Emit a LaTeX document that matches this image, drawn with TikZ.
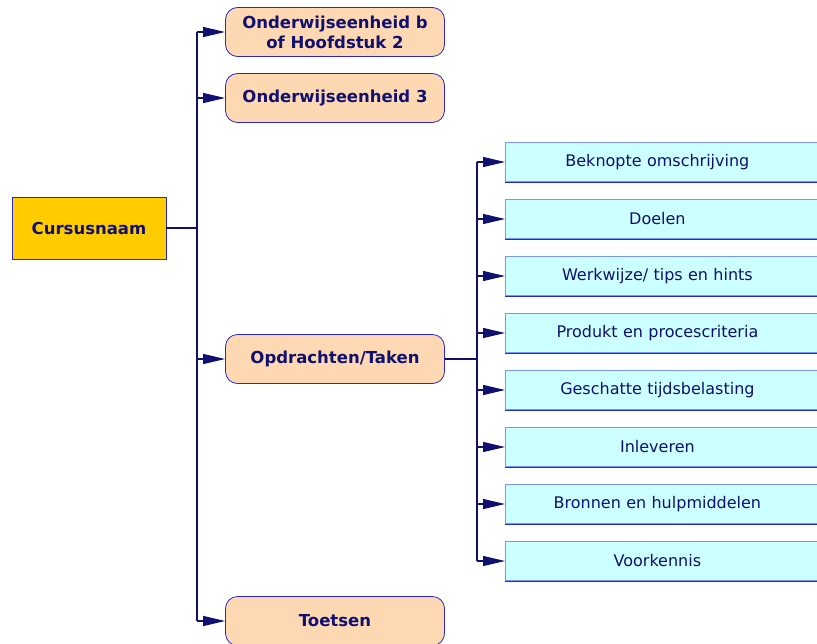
\documentclass[tikz,border=0pt]{standalone}
\usepackage{fontspec}
\setmainfont{DejaVu Sans}
\usepackage{tikz}
\usetikzlibrary{arrows.meta,
                positioning,
                calc}
\definecolor{navy}{RGB}{16,16,112}
\definecolor{rand}{RGB}{40,40,210}
\definecolor{lichtrand}{RGB}{120,150,250}
\definecolor{goud}{RGB}{255,204,0}
\definecolor{perzik}{RGB}{253,216,178}
\definecolor{lichtcyaan}{RGB}{204,255,255}
\tikzset{
	%Define standard arrow tip
	>={Triangle[length=22pt,width=10pt]},
	%Define style for boxes
	hoofd/.style={
	       rectangle,
	       draw=rand, thick,
	       fill=goud,
	       text=navy,
	       font=\fontsize{16.5}{20}\selectfont\bfseries,
	       minimum width=154pt,
	       minimum height=62pt},
	eenheid/.style={
	       rectangle,
	       rounded corners=12pt,
	       draw=rand, thick,
	       fill=perzik,
	       text=navy,
	       font=\fontsize{16.5}{20}\selectfont\bfseries,
	       align=center,
	       minimum width=219pt,
	       minimum height=49pt},
	stap/.style={
	       rectangle,
	       draw=lichtrand, thick,
	       fill=lichtcyaan,
	       text=navy,
	       font=\fontsize{16}{19}\selectfont,
	       anchor=west,
	       inner xsep=0pt,
	       text width=340pt,
	       minimum height=39pt},
	% Define line styles
	lijn/.style={
	       draw=navy,
	       line width=1.2pt},
	pil/.style={
	       lijn,
	       ->}
}

\begin{document}
\begin{tikzpicture}[x=1pt, y=-1pt]
	\useasboundingbox (0,0) rectangle (817,643);
	\clip (0,0) rectangle (817,643);
	\node[hoofd] (cursus) at (89,228) {Cursusnaam};
	\node[eenheid] (eenheid_b) at (335,32) {Onderwijseenheid b\\of Hoofdstuk 2};
	\node[eenheid] (eenheid_3) at (335,98) {Onderwijseenheid 3};
	\node[eenheid] (opdrachten) at (335,359) {Opdrachten/Taken};
	\node[eenheid] (toetsen) at (335,621) {Toetsen};
	% main branch
	\coordinate (stam) at (197,228);
	\draw[lijn] (cursus.east) -- (stam);
	\draw[lijn] (stam |- eenheid_b.west) -- (stam |- toetsen.west);
	\foreach \n in {eenheid_b, eenheid_3, opdrachten, toetsen}
		\draw[pil] (stam |- \n.west) -- (\n.west);
	% steps of an assignment
	\foreach \t [count=\i] in {Beknopte omschrijving, Doelen,
			Werkwijze/ tips en hints, Produkt en procescriteria,
			Geschatte tijdsbelasting, Inleveren,
			Bronnen en hulpmiddelen, Voorkennis}
	{
		\node[stap] (stap_\i) at (505,{162+57*(\i-1)}) {\makebox[304pt]{\t}};
		\draw[rand, thick] (stap_\i.south west) -- (stap_\i.south east);
	}
	\coordinate (tak) at (477,359);
	\draw[lijn] (opdrachten.east) -- (tak);
	\draw[lijn] (tak |- stap_1.west) -- (tak |- stap_8.west);
	\foreach \i in {1,...,8}
		\draw[pil] (tak |- stap_\i.west) -- (stap_\i.west);
\end{tikzpicture}
\end{document}
